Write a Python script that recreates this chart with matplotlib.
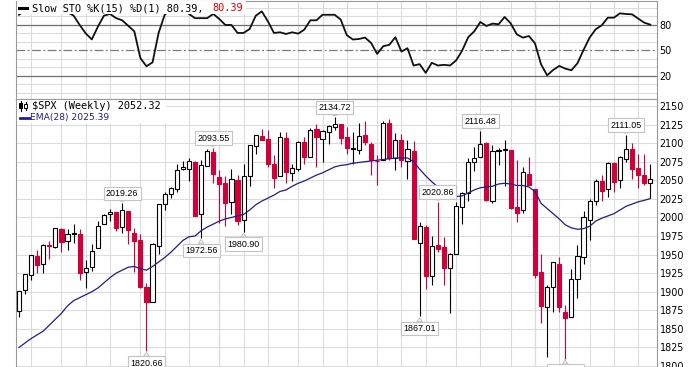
import matplotlib
matplotlib.use("Agg")
import matplotlib.pyplot as plt
from matplotlib.lines import Line2D
from matplotlib.patches import Rectangle
import numpy as np

# ===============================================================
# Data: $SPX weekly candles, week of May 19 2014 .. May 16 2016
# ===============================================================

prev_close = 1877.86  # close of the week before the first candle

opens = [
    1874.0, 1902.0, 1923.0, 1948.0, 1937.0, 1962.9, 1960.8, 1984.2, 1968.1, 1979.0,
    1978.0, 1926.0, 1933.0, 1958.4, 1991.0, 2004.0, 2007.2, 1986.8, 2009.1, 1979.0,
    1970.0, 1905.7, 1886.8, 1962.0, 2018.2, 2032.0, 2038.3, 2065.1, 2065.8, 2074.8,
    2005.0, 2069.3, 2087.6, 2054.4, 2046.0, 2020.8, 2050.4, 1996.7, 2055.5, 2096.5,
    2109.8, 2105.2, 2072.3, 2055.4, 2107.0, 2060.0, 2064.9, 2102.0, 2082.0, 2119.3,
    2105.0, 2115.6, 2122.3, 2125.3, 2108.6, 2092.3, 2091.3, 2110.6, 2098.6, 2075.6,
    2077.0, 2126.5, 2080.0, 2104.5, 2076.6, 2089.7, 1965.2, 1986.7, 1921.3, 1963.1,
    1960.8, 1932.2, 1951.4, 2013.7, 2033.5, 2075.1, 2080.8, 2100.0, 2022.1, 2089.4,
    2090.9, 2090.4, 2013.4, 2010.3, 2058.0, 2038.2, 1926.1, 1878.9, 1906.3, 1936.9,
    1873.3, 1866.0, 1917.8, 1947.0, 1996.0, 2022.2, 2048.6, 2037.9, 2073.2, 2050.0,
    2078.8, 2091.6, 2067.2, 2057.5, 2046.5,
]
highs = [
    1901.3, 1924.0, 1950.0, 1955.6, 1963.9, 1968.2, 1985.6, 1985.6, 1983.9, 1991.4,
    1984.6, 1942.9, 1964.0, 1994.8, 2005.0, 2011.2, 2007.7, 2019.26, 2009.1, 1985.2,
    1977.8, 1912.0, 1965.3, 2018.2, 2034.3, 2041.3, 2071.5, 2075.8, 2079.5, 2075.8,
    2077.9, 2092.7, 2093.55, 2064.4, 2056.0, 2064.6, 2057.6, 2072.4, 2097.0, 2110.6,
    2119.6, 2117.5, 2083.5, 2114.9, 2114.9, 2072.2, 2102.6, 2107.6, 2120.9, 2125.9,
    2117.7, 2123.9, 2134.72, 2126.2, 2121.9, 2115.0, 2126.7, 2129.9, 2102.0, 2083.7,
    2129.2, 2132.8, 2114.2, 2112.7, 2104.2, 2102.9, 1993.5, 1990.0, 1975.0, 2020.86,
    1974.0, 1952.0, 2020.2, 2034.5, 2079.7, 2094.3, 2116.48, 2101.5, 2097.0, 2094.1,
    2104.3, 2090.4, 2076.7, 2067.6, 2081.6, 2038.2, 1950.3, 1908.9, 1940.2, 1947.2,
    1881.6, 1930.7, 1962.9, 2009.1, 2024.6, 2052.4, 2056.6, 2075.1, 2074.0, 2083.3,
    2111.05, 2099.9, 2084.9, 2084.9, 2071.9,
]
lows = [
    1866.0, 1897.0, 1916.0, 1925.8, 1925.8, 1944.7, 1958.2, 1952.9, 1955.6, 1965.5,
    1916.4, 1904.8, 1928.0, 1958.4, 1990.5, 1995.0, 1981.8, 1978.6, 1964.0, 1926.0,
    1905.0, 1820.66, 1886.8, 1951.0, 2010.0, 2026.0, 2034.0, 2064.0, 2049.6, 2002.0,
    1972.56, 2069.3, 2046.0, 1992.4, 1988.1, 2004.5, 1989.2, 1980.90, 2041.9, 2085.4,
    2103.8, 2067.3, 2039.7, 2055.4, 2045.8, 2048.4, 2063.1, 2072.4, 2081.2, 2067.9,
    2074.4, 2099.1, 2117.3, 2099.2, 2085.7, 2072.1, 2085.7, 2097.3, 2056.6, 2044.0,
    2077.0, 2077.7, 2063.5, 2067.9, 2052.1, 1970.9, 1867.01, 1903.1, 1909.0, 1953.0,
    1908.8, 1871.9, 1951.4, 1990.7, 2022.1, 2062.0, 2080.8, 2022.0, 2019.4, 2070.3,
    2042.4, 2012.0, 1993.3, 2005.9, 2043.6, 1918.5, 1857.8, 1812.3, 1872.8, 1872.7,
    1810.10, 1866.0, 1891.0, 1937.1, 1969.3, 2017.4, 2022.5, 2028.1, 2033.8, 2039.7,
    2074.3, 2052.3, 2039.5, 2043.1, 2025.9,
]
closes = [
    1900.53, 1923.57, 1949.44, 1936.16, 1962.87, 1960.96, 1985.44, 1967.57, 1978.22, 1978.34,
    1925.15, 1931.59, 1955.06, 1988.40, 2003.37, 2007.71, 1985.54, 2010.40, 1982.85, 1967.90,
    1906.13, 1886.76, 1964.58, 2018.05, 2031.92, 2039.82, 2063.50, 2067.56, 2075.37, 2002.33,
    2070.65, 2088.77, 2058.20, 2044.81, 2019.42, 2051.82, 1994.99, 2055.47, 2096.99, 2110.30,
    2104.50, 2071.26, 2053.40, 2108.10, 2061.02, 2066.96, 2102.06, 2081.18, 2117.69, 2108.29,
    2116.10, 2122.73, 2126.06, 2107.39, 2092.83, 2094.11, 2109.99, 2101.49, 2076.78, 2076.62,
    2126.64, 2079.65, 2103.84, 2077.57, 2091.54, 1970.89, 1988.87, 1921.22, 1961.05, 1958.03,
    1931.34, 1951.36, 2014.89, 2033.11, 2075.15, 2079.36, 2099.20, 2023.04, 2089.17, 2090.11,
    2091.69, 2012.37, 2005.55, 2060.99, 2043.94, 1922.03, 1880.33, 1906.90, 1940.24, 1880.05,
    1864.78, 1917.78, 1948.05, 1999.99, 2022.19, 2049.58, 2035.94, 2072.78, 2047.60, 2080.73,
    2091.58, 2065.30, 2057.14, 2046.61, 2052.32,
]

# EMA(28), one value per candle
ema28 = [
    1825, 1831, 1837, 1842, 1847, 1855, 1863, 1871, 1881, 1888,
    1892, 1896, 1900, 1905, 1912, 1919, 1925, 1929, 1933, 1934,
    1931, 1929, 1934, 1940, 1946, 1953, 1961, 1969, 1974, 1975,
    1982, 1987, 1991, 1995, 1998, 2000, 2002, 2004, 2010, 2017,
    2022, 2026, 2030, 2035, 2037, 2042, 2046, 2049, 2053, 2057,
    2060, 2064, 2068, 2070, 2071, 2073, 2074, 2075, 2076, 2077,
    2078, 2079, 2080, 2080, 2080, 2075, 2065, 2056, 2048, 2041,
    2035, 2030, 2028, 2029, 2033, 2037, 2040, 2041, 2042, 2045,
    2046, 2045, 2043, 2043, 2041, 2035, 2019, 2012, 2005, 1998,
    1990, 1986, 1984, 1985, 1988, 1995, 1999, 2002, 2005, 2010,
    2015, 2018, 2021, 2023, 2025.4,
]

# Slow STO %K(15) %D(1)
slow_sto = [
    92, 97, 98, 98, 99, 98, 99, 97, 95, 91,
    80, 70, 63, 78, 91, 93, 88, 85.5, 79, 72.5,
    41, 31.4, 36, 70.6, 92, 98, 99, 99, 93, 88,
    88, 88, 93, 87, 80, 80, 70.6, 70.6, 75.3, 90.8,
    96, 84.3, 70.6, 71.4, 69.4, 71.4, 69.8, 74.5, 85.5, 85.5,
    92, 92, 92, 86.3, 68, 62.9, 63.5, 65.2, 58.9, 46,
    55, 56.6, 65.6, 48.7, 52.7, 32.3, 33.9, 23.7, 35.5, 32.3,
    33.1, 32.3, 38.2, 49.8, 65.6, 72.5, 83.5, 78.8, 81.6, 80.8,
    89.4, 81.9, 69, 65.1, 67, 58.4, 33.7, 20.8, 27.1, 31.8,
    28.6, 26.7, 35, 50.6, 65.1, 74.9, 79.6, 88.6, 88.6, 93.7,
    92.9, 92.5, 87.5, 82.7, 80.39,
]

# candle index of the first bar of each month / of each year
month_lines = [2, 7, 11, 15, 20, 24, 28, 33, 37, 41, 46, 50, 54, 59, 63, 67,
               72, 76, 81, 85, 89, 94, 98, 102]
year_lines = [33, 85]

# labelled swing highs / lows
mark_idx = [17, 21, 32, 30, 37, 52, 66, 69, 76, 90, 100]
mark_val = [2019.26, 1820.66, 2093.55, 1972.56, 1980.90, 2134.72, 1867.01,
            2020.86, 2116.48, 1810.10, 2111.05]
mark_kind = ["high", "low", "high", "low", "low", "high", "low",
             "high", "high", "low", "high"]

# ===============================================================
# Plot
# ===============================================================

RED = "#d1003a"
NAVY = "#1e1e8c"
GRID = "#dcdcdc"
EDGE = "#9a9a9a"
W, H = 700, 367


def fig_box(x0, y0, x1, y1):
    """Pixel box (origin top-left) -> figure-fraction rect."""
    return [x0 / W, 1 - y1 / H, (x1 - x0) / W, (y1 - y0) / H]


fig = plt.figure(figsize=(W / 100, H / 100), dpi=100)
ax_sto = fig.add_axes(fig_box(16, 1, 657, 99))
ax = fig.add_axes(fig_box(16, 99, 657, 367))

o = np.array(opens)
h = np.array(highs)
l = np.array(lows)
c = np.array(closes)
x = np.arange(len(c))

for a in (ax_sto, ax):
    a.set_xlim(-0.49, 105.1)
    a.set_xticks(month_lines)
    a.tick_params(axis="x", length=0, labelbottom=False)
    a.tick_params(axis="y", which="both", length=0, labelleft=False,
                  labelright=True, pad=2, labelsize=6.9)
    a.grid(True, axis="x", color=GRID, lw=0.8)
    a.set_axisbelow(True)
    for s in a.spines.values():
        s.set_color(EDGE)
        s.set_linewidth(0.8)
    for yl in year_lines:
        a.axvline(yl, color="#b4b4b4", lw=0.8, zorder=0.5)

# --- stochastic panel
ax_sto.set_ylim(-7.1, 108.2)
ax_sto.set_yticks([20, 50, 80])
ax_sto.set_yticks(np.arange(0, 101, 10), minor=True)
ax_sto.grid(True, axis="y", which="minor", color=GRID, lw=0.8)
ax_sto.axhline(80, color="#6e6e6e", lw=0.9, zorder=1)
ax_sto.axhline(20, color="#6e6e6e", lw=0.9, zorder=1)
ax_sto.axhline(50, color="#7a7a7a", lw=0.9, ls=(0, (7, 2, 1.5, 2)), zorder=1)
ax_sto.plot(x, slow_sto, color="#111111", lw=1.3, zorder=3)

# --- price panel
ax.set_ylim(1798.7, 2159.4)
ax.set_yticks(np.arange(1800, 2151, 25))
ax.grid(True, axis="y", color=GRID, lw=0.8)
ax.spines["bottom"].set_visible(False)

prev = np.r_[prev_close, c[:-1]]
col = np.where(c < prev, RED, "black")
face = np.where(c > o, "white", col)
ax.vlines(x, l, h, colors=col, lw=0.8, zorder=3)
ax.bar(x, np.maximum(np.abs(c - o), 0.8), bottom=np.minimum(o, c), width=0.68,
       color=face, edgecolor=col, linewidth=0.8, zorder=4)
ax.plot(x, ema28, color=NAVY, lw=0.9, zorder=5)

for i, val, kind in zip(mark_idx, mark_val, mark_kind):
    dy = 7 if kind == "high" else -9
    ax.annotate(f"{val:.2f}", xy=(i, val), xytext=(0, dy), textcoords="offset points",
                ha="center", va="center", fontsize=6.4, family="Liberation Sans",
                bbox=dict(boxstyle="square,pad=0.25", fc="white", ec="#c4c4c4", lw=0.8),
                arrowprops=dict(arrowstyle="wedge,tail_width=0.6", fc="white",
                                ec="#c4c4c4", lw=0.8, shrinkA=0, shrinkB=1.2),
                annotation_clip=False, zorder=6)

# --- legends (white boxes over the grid)
fig.add_artist(Rectangle((17 / W, 1 - 14 / H), 229 / W, 12.5 / H,
                         transform=fig.transFigure, fc="white", ec="none", zorder=2))
fig.add_artist(Line2D([19 / W, 27 / W], [1 - 8.3 / H] * 2, color="black", lw=2.2, zorder=3))
fig.text(31.7 / W, 1 - 8.3 / H, "Slow STO %K(15) %D(1) 80.39,", family="DejaVu Sans Mono",
         fontsize=7.4, va="center", zorder=4)
fig.text(212.7 / W, 1 - 8.3 / H, "80.39", family="DejaVu Sans Mono", color="#e00000",
         fontsize=7.4, va="center", zorder=4)

fig.add_artist(Rectangle((17 / W, 1 - 123 / H), 149 / W, 23 / H,
                         transform=fig.transFigure, fc="white", ec="none", zorder=2))
# little candlestick icon
for cx, top, bot, b0, b1, fc in [(20.5, 101, 111, 103, 108, "black"),
                                 (25.5, 102, 110, 104, 108, "white")]:
    fig.add_artist(Line2D([cx / W] * 2, [1 - top / H, 1 - bot / H], color="black", lw=0.8, zorder=3))
    fig.add_artist(Rectangle(((cx - 1.5) / W, 1 - b1 / H), 3 / W, (b1 - b0) / H,
                             transform=fig.transFigure, fc=fc, ec="black", lw=0.7, zorder=3))
fig.text(31.7 / W, 1 - 106 / H, r"\$SPX (Weekly) 2052.32", family="DejaVu Sans Mono",
         fontsize=7.4, va="center", zorder=4)
fig.add_artist(Line2D([20 / W, 29 / W], [1 - 117.5 / H] * 2, color=NAVY, lw=2.0, zorder=3))
fig.text(30.5 / W, 1 - 117.5 / H, "EMA(28) 2025.39", color=NAVY, fontsize=6.6,
         va="center", zorder=4)

fig.savefig("out.png", dpi=100)
plt.close(fig)
